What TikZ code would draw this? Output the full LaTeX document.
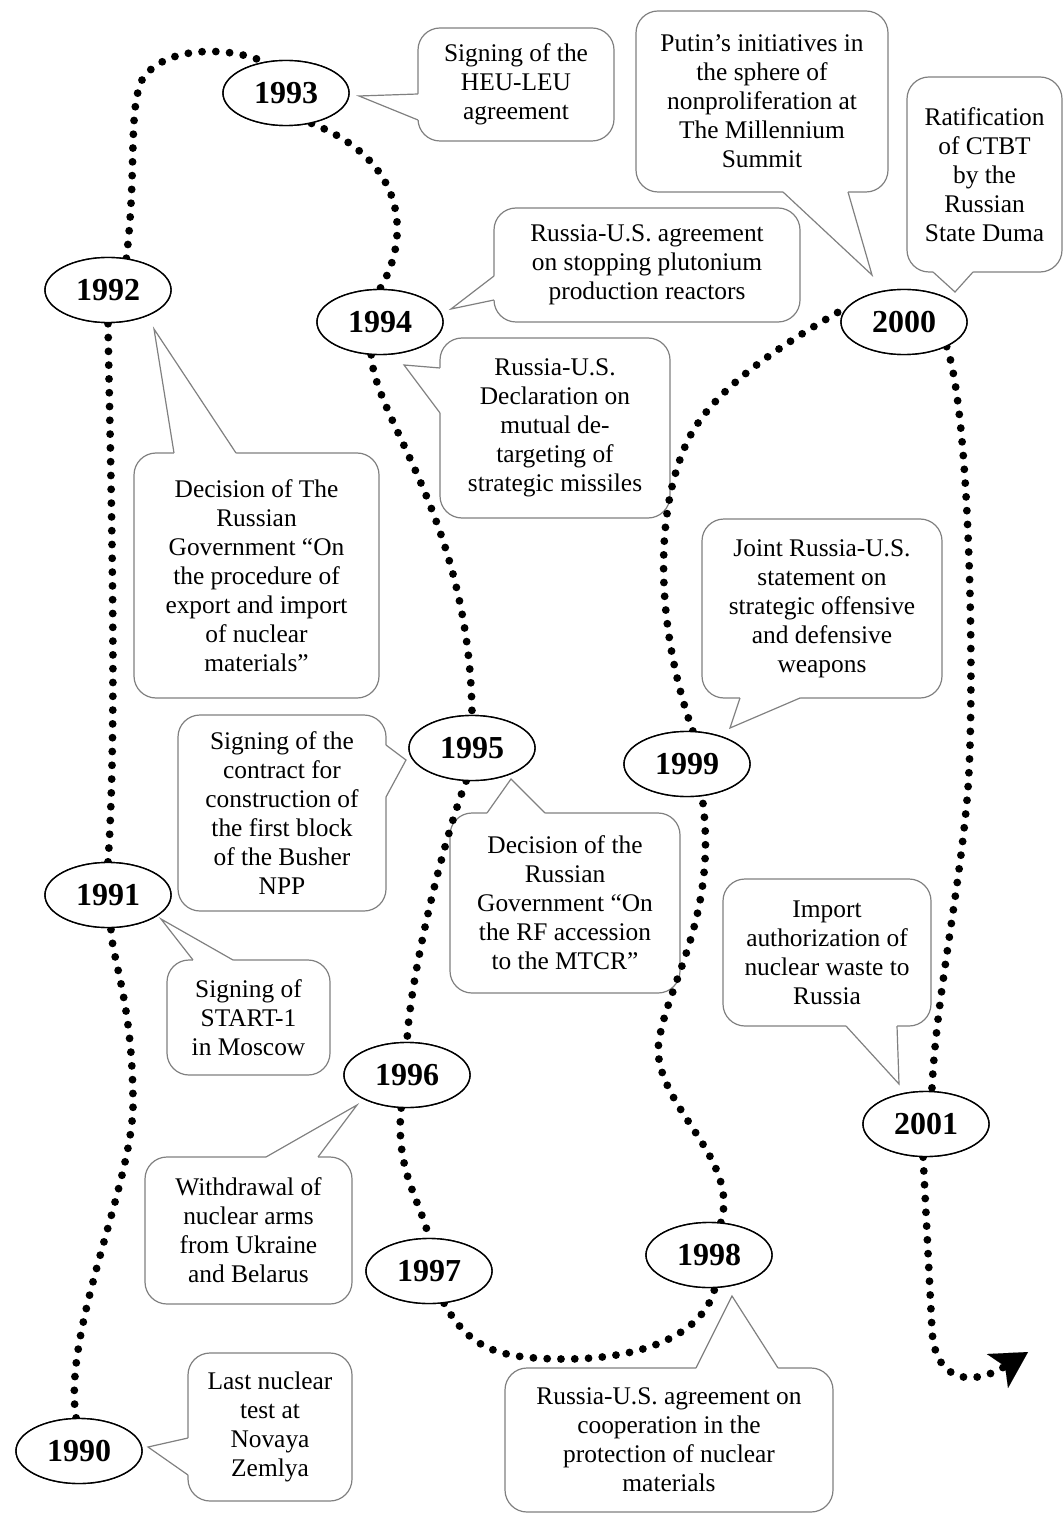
\documentclass[tikz,border=0pt]{standalone}
\usepackage{fontspec}
\setmainfont{Liberation Serif}
\usetikzlibrary{shapes.geometric,arrows.meta}

\begin{document}
\begin{tikzpicture}[x=0.5pt, y=-0.5pt,
    yearnode/.style={ellipse, draw, line width=0.7pt, fill=white, minimum width=63pt, minimum height=32.5pt, inner sep=0pt, font=\fontsize{16}{18}\selectfont\bfseries},
    bubble/.style={draw=black!50, line width=0.6pt, fill=white, rounded corners=11pt, align=center, inner sep=0pt, font=\fontsize{12.7}{14.5}\selectfont},
    tipline/.style={draw=black!50, line width=0.6pt},
    trail/.style={line width=3.9pt, line cap=round, dash pattern=on 0pt off 6.9pt}]

    % Fix the frame of the page
    \useasboundingbox (0,0) rectangle (1063,1513);

    % Callout boxes (the events)
    \node[bubble, minimum width=98pt, minimum height=56.5pt] (heu) at (516,84.5) {Signing of the\\HEU-LEU\\agreement};
    \node[bubble, minimum width=126pt, minimum height=90.5pt] (putin) at (762,101.5) {Putin’s initiatives in\\the sphere of\\nonproliferation at\\The Millennium\\Summit};
    \node[bubble, minimum width=77.5pt, minimum height=97.5pt] (ctbt) at (984.5,174.5) {Ratification\\of CTBT\\by the\\Russian\\State Duma};
    \node[bubble, minimum width=153pt, minimum height=57pt] (pluto) at (647,265) {Russia-U.S. agreement\\on stopping plutonium\\production reactors};
    \node[bubble, minimum width=115pt, minimum height=90pt] (detarget) at (555,428) {Russia-U.S.\\Declaration on\\mutual de-\\targeting of\\strategic missiles};
    \node[bubble, minimum width=122.5pt, minimum height=122.5pt] (export) at (256.5,575.5) {Decision of The\\Russian\\Government “On\\the procedure of\\export and import\\of nuclear\\materials”};
    \node[bubble, minimum width=120pt, minimum height=89.5pt] (joint) at (822,608.5) {Joint Russia-U.S.\\statement on\\strategic offensive\\and defensive\\weapons};
    \node[bubble, minimum width=104pt, minimum height=98pt] (busher) at (282,813) {Signing of the\\contract for\\construction of\\the first block\\of the Busher\\NPP};
    \node[bubble, minimum width=115pt, minimum height=90pt] (mtcr) at (565,903) {Decision of the\\Russian\\Government “On\\the RF accession\\to the MTCR”};
    \node[bubble, minimum width=81.5pt, minimum height=57.5pt] (start) at (248.5,1017.5) {Signing of\\START-1\\in Moscow};
    \node[bubble, minimum width=104pt, minimum height=73.5pt] (waste) at (827,952.5) {Import\\authorization of\\nuclear waste to\\Russia};
    \node[bubble, minimum width=103.5pt, minimum height=73.5pt] (ukraine) at (248.5,1230.5) {Withdrawal of\\nuclear arms\\from Ukraine\\and Belarus};
    \node[bubble, minimum width=82pt, minimum height=74pt] (zemlya) at (270,1427) {Last nuclear\\test at\\Novaya\\Zemlya};
    \node[bubble, minimum width=164pt, minimum height=72pt] (protect) at (669,1440) {Russia-U.S. agreement on\\cooperation in the\\protection of nuclear\\materials};

    % Pointers of the callouts (white fill opens the box edge)
    \fill[white] (421,94) -- (418,94) -- (359,96) -- (418,120) -- (421,120) -- cycle;
    \draw[tipline] (418,94) -- (359,96) -- (418,120);
    \fill[white] (783,189) -- (783,192) -- (872,275) -- (848,192) -- (848,189) -- cycle;
    \draw[tipline] (783,192) -- (872,275) -- (848,192);
    \fill[white] (933,269) -- (933,272) -- (955,292) -- (973,272) -- (973,269) -- cycle;
    \draw[tipline] (933,272) -- (955,292) -- (973,272);
    \fill[white] (497,276) -- (494,276) -- (451,309) -- (494,300) -- (497,300) -- cycle;
    \draw[tipline] (494,276) -- (451,309) -- (494,300);
    \fill[white] (443,368) -- (440,368) -- (404,365) -- (440,413) -- (443,413) -- cycle;
    \draw[tipline] (440,368) -- (404,365) -- (440,413);
    \fill[white] (174,456) -- (174,453) -- (154,329) -- (236,453) -- (236,456) -- cycle;
    \draw[tipline] (174,453) -- (154,329) -- (236,453);
    \fill[white] (740,695) -- (740,698) -- (730,728) -- (800,698) -- (800,695) -- cycle;
    \draw[tipline] (740,698) -- (730,728) -- (800,698);
    \fill[white] (383,745) -- (386,745) -- (406,760) -- (386,797) -- (383,797) -- cycle;
    \draw[tipline] (386,745) -- (406,760) -- (386,797);
    \fill[white] (487,816) -- (487,813) -- (511,779) -- (545,813) -- (545,816) -- cycle;
    \draw[tipline] (487,813) -- (511,779) -- (545,813);
    \fill[white] (193,963) -- (193,960) -- (161,919) -- (233,960) -- (233,963) -- cycle;
    \draw[tipline] (193,960) -- (161,919) -- (233,960);
    \fill[white] (846,1023) -- (846,1026) -- (899,1084) -- (897,1026) -- (897,1023) -- cycle;
    \draw[tipline] (846,1026) -- (899,1084) -- (897,1026);
    \fill[white] (266,1160) -- (266,1157) -- (357,1105) -- (318,1157) -- (318,1160) -- cycle;
    \draw[tipline] (266,1157) -- (357,1105) -- (318,1157);
    \fill[white] (191,1438) -- (188,1438) -- (148,1447) -- (188,1475) -- (191,1475) -- cycle;
    \draw[tipline] (188,1438) -- (148,1447) -- (188,1475);
    \fill[white] (696,1371) -- (696,1368) -- (732,1296) -- (778,1368) -- (778,1371) -- cycle;
    \draw[tipline] (696,1368) -- (732,1296) -- (778,1368);

    % The years
    \foreach \yr/\x/\y in {1990/79/1451, 1991/108/895, 1992/108/290, 1993/286/93,
                          1994/380/322, 1995/472/748, 1996/407/1075, 1997/429/1271,
                          1998/709/1255, 1999/687/764, 2000/904/322, 2001/926/1124} {
        \node[yearnode] (y\yr) at (\x,\y) {\yr};
    }
    \coordinate (endtip) at (1028,1352);

    % Dotted time line, year by year
    \draw[trail] (y1990.95) .. controls (62,1330) and (135,1180) .. (133,1100) .. controls (132,1000) and (112,960) .. (y1991.-85);
    \draw[trail] (y1991.north) .. controls (118,720) and (110,450) .. (y1992.south);
    \draw[trail] (y1992.60) .. controls (137,170) and (128,110) .. (142,80) .. controls (162,47) and (225,45) .. (y1993.125);
    \draw[trail] (y1993.-50) .. controls (405,160) and (412,235) .. (y1994.north);
    \draw[trail] (y1994.-105) .. controls (375,420) and (470,520) .. (y1995.north);
    \draw[trail] (y1995.-100) .. controls (440,850) and (410,980) .. (y1996.north);
    \draw[trail] (y1996.-100) .. controls (395,1170) and (420,1200) .. (y1997.north);
    \draw[trail] (y1997.-65) .. controls (470,1350) and (500,1358) .. (560,1359) .. controls (650,1360) and (705,1330) .. (y1998.-80);
    \draw[trail] (y1998.70) .. controls (740,1160) and (660,1110) .. (658,1050) .. controls (662,990) and (720,920) .. (y1999.-65);
    \draw[trail] (y1999.80) .. controls (660,640) and (650,520) .. (688,440) .. controls (715,385) and (790,340) .. (y2000.165);
    \draw[trail] (y2000.-30) .. controls (972,420) and (975,720) .. (967,800) .. controls (958,900) and (936,1000) .. (y2001.80);
    \draw[trail, -{Stealth[length=18pt, width=20pt, inset=4.5pt, line width=0.01pt]}] (y2001.-95) -- (932,1330) .. controls (935,1385) and (975,1385) .. (endtip);

    % Redraw the years on top of the dots
    \foreach \yr in {1990,1991,1992,1993,1994,1995,1996,1997,1998,1999,2000,2001} {
        \node[yearnode] at (y\yr) {\yr};
    }
\end{tikzpicture}
\end{document}
